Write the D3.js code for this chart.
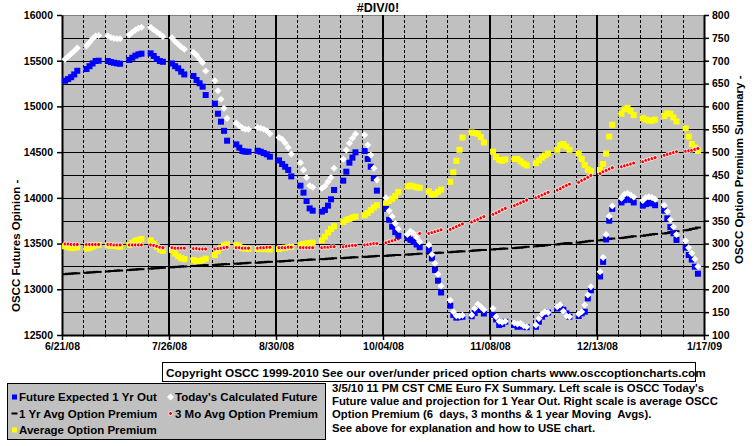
<!DOCTYPE html>
<html>
<head>
<meta charset="utf-8">
<script src="https://cdn.jsdelivr.net/npm/d3@7/dist/d3.min.js"></script>
<style>
  body { margin: 0; background: #fff; }
  svg text { font-family: "Liberation Sans", Arial, sans-serif; font-weight: bold; fill: #000; white-space: pre; }
</style>
</head>
<body>
<div id="graphic"></div>
<script>
// first day (Sunday) of each trading week, 5 points per week
var weekStarts = ["2008-06-22","2008-06-29","2008-07-06","2008-07-13","2008-07-20",
  "2008-07-27","2008-08-03","2008-08-10","2008-08-17","2008-08-24",
  "2008-08-31","2008-09-07","2008-09-14","2008-09-21","2008-09-28",
  "2008-10-05","2008-10-12","2008-10-19","2008-10-26","2008-11-02",
  "2008-11-09","2008-11-16","2008-11-23","2008-11-30","2008-12-07",
  "2008-12-14","2008-12-21","2008-12-28","2009-01-04","2009-01-11"];

var xTickDates = ["2008-06-21","2008-07-26","2008-08-30","2008-10-04","2008-11-08","2008-12-13","2009-01-17"];
var xTickLabels = ["6/21/08","7/26/08","8/30/08","10/04/08","11/08/08","12/13/08","1/17/09"];

// left scale
var futureExpected = [
  [15281,15299,15320,15350,15390],[15409,15440,15470,15497,15500],[15497,15485,15478,15471,15467],
  [15508,15533,15555,15570,15577],[15580,15552,15519,15497,15488],[15470,15440,15417,15380,15350],
  [15333,15289,15253,15216,15125],[15030,14920,14833,14733,14625],[14585,14549,14512,14505,14505],
  [14515,14505,14490,14476,14450],[14410,14370,14340,14305,14235],[14133,14057,13966,13885,13860],
  [13849,13867,13915,13984,14086],[14188,14286,14385,14440,14498],[14512,14425,14341,14214,14079],
  [13880,13760,13685,13625,13585],[13560,13540,13520,13490,13460],[13430,13338,13211,13094,12965],
  [12820,12720,12690,12695,12700],[12705,12740,12790,12780,12735],[12720,12670,12610,12620,12645],
  [12610,12590,12598,12590,12585],[12590,12645,12700,12730,12745],[12790,12810,12775,12737,12700],
  [12708,12737,12755,12900,12990],[13140,13300,13545,13750,13880],[13950,13975,13995,13978,13950],
  [13915,13932,13947,13940,13920],[13860,13776,13680,13612,13540],[13455,13375,13325,13247,13170]];

var todayCalc = [
  [15515,15545,15575,15605,15640],[15660,15700,15740,15770,15775],[15770,15755,15745,15740,15740],
  [15781,15810,15836,15854,15865],[15865,15840,15815,15790,15765],[15750,15710,15680,15650,15625],
  [15592,15562,15515,15478,15388],[15281,15172,15078,14980,14870],[14820,14790,14765,14750,14750],
  [14770,14760,14750,14735,14700],[14660,14640,14600,14550,14480],[14385,14305,14224,14133,14115],
  [14104,14130,14177,14224,14323],[14421,14523,14596,14651,14698],[14687,14578,14469,14323,14195],
  [14000,13860,13795,13720,13660],[13600,13635,13610,13570,13520],[13485,13380,13285,13165,13035],
  [12880,12755,12710,12708,12715],[12720,12790,12835,12810,12775],[12790,12700,12650,12640,12650],
  [12630,12620,12627,12600,12590],[12610,12680,12730,12755,12745],[12810,12830,12760,12710,12700],
  [12730,12755,12828,12937,13028],[13193,13349,13600,13800,13910],[13995,14040,14050,14032,14010],
  [13970,14005,14013,14005,13985],[13920,13850,13760,13685,13600],[13530,13455,13395,13330,13250]];

// right scale
var yrAvgPremium = [
  [233,234,234,235,235],[236,237,237,238,238],[239,240,240,241,241],[242,243,243,244,244],
  [245,246,246,247,247],[248,249,249,250,250],[251,251,252,252,253],[253,254,254,255,255],
  [256,256,257,257,258],[258,259,259,260,260],[261,261,262,262,263],[263,264,264,265,265],
  [266,266,267,267,268],[268,269,269,270,270],[271,271,272,272,273],[273,274,274,275,275],
  [276,276,277,277,278],[278,279,279,280,280],[281,282,282,283,283],[284,285,285,286,286],
  [287,288,288,289,289],[290,291,291,292,293],[294,295,295,296,297],[298,299,300,301,301],
  [302,303,304,305,306],[307,308,309,310,311],[312,313,314,315,316],[317,318,319,320,321],
  [322,323,325,326,327],[329,330,332,333,335]];

var moAvgPremium = [
  [299,299,298,298,298],[298,298,298,298,298],[298,298,297,297,297],[297,297,297,297,297],
  [297,296,294,292,291],[291,290,290,290,290],[289,289,288,288,288],[288,289,290,291,292],
  [291,291,290,290,290],[290,291,291,292,292],[291,291,291,292,292],[291,291,291,291,291],
  [291,292,292,293,293],[293,294,295,296,296],[297,298,299,300,300],[302,304,306,308,310],
  [311,314,317,320,322],[322,324,326,328,330],[331,334,337,340,343],[347,350,353,356,359],
  [364,367,370,374,377],[383,386,389,392,395],[400,403,406,409,412],[417,420,424,427,430],
  [434,438,441,445,449],[453,457,460,463,466],[468,470,472,474,476],[479,482,484,486,488],
  [493,495,497,499,501],[502,503,504,506,508]];

var avgPremium = [
  [294,292,290,291,292],[289,290,293,296,297],[296,295,295,294,293],[297,302,306,308,310],
  [307,300,293,287,284],[286,278,272,268,266],[264,262,262,264,267],[275,284,291,296,298],
  [297,294,290,289,288],[288,288,288,288,287],[288,290,291,292,293],[297,299,300,301,302],
  [307,315,324,332,338],[347,352,354,357,359],[362,367,373,379,384],[388,393,398,404,413],
  [425,427,425,423,422],[414,407,408,413,418],[435,456,481,505,532],[543,542,540,533,521],
  [501,489,483,481,484],[485,485,480,475,471],[476,482,488,493,497],[505,515,518,512,505],
  [497,485,472,462,459],[461,474,497,534,560],[584,594,597,590,581],[574,571,569,569,571],
  [579,585,584,576,567],[552,534,518,510,503]];

var leftTicks = [12500,13000,13500,14000,14500,15000,15500,16000];
var rightTicks = [100,150,200,250,300,350,400,450,500,550,600,650,700,750,800];

var titleText = "#DIV/0!";
var leftTitle = "OSCC Futures Opinion -";
var rightTitle = "OSCC Option Premium Summary -";
var copyright = "Copyright OSCC 1999-2010 See our over/under priced option charts www.osccoptioncharts.com";
var noteLines = ["3/5/10 11 PM CST CME Euro FX Summary. Left scale is OSCC Today's",
  "Future value and projection for 1 Year Out. Right scale is average OSCC",
  "Option Premium (6  days, 3 months & 1 year Moving  Avgs).",
  "See above for explanation and how to USE chart."];

(function () {
  var parse = d3.timeParse("%Y-%m-%d");
  var W = 755, H = 446;
  var margin = {top: 15, right: 51, bottom: 111, left: 62},
      width = W - margin.left - margin.right,
      height = H - margin.top - margin.bottom;

  function toPoints(weeks) {
    var pts = [];
    weeks.forEach(function (vals, i) {
      var start = parse(weekStarts[i]);
      vals.forEach(function (v, j) {
        if (v != null) pts.push({date: d3.timeDay.offset(start, j), value: v});
      });
    });
    return pts;
  }

  var x = d3.scaleTime()
      .domain([parse(xTickDates[0]), parse(xTickDates[xTickDates.length - 1])])
      .range([0, width]);
  var yL = d3.scaleLinear().domain([12500, 16000]).range([height, 0]);
  var yR = d3.scaleLinear().domain([100, 800]).range([height, 0]);

  var root = d3.select("#graphic").append("svg")
      .attr("width", W).attr("height", H);

  root.append("text")
      .attr("x", 378).attr("y", 12)
      .attr("text-anchor", "middle")
      .style("font-size", "12.5px")
      .text(titleText);

  var svg = root.append("g")
      .attr("transform", "translate(" + margin.left + "," + margin.top + ")");

  svg.append("rect")
      .attr("width", width).attr("height", height)
      .attr("fill", "#c0c0c0");
  svg.append("line")
      .attr("x1", 0).attr("x2", width).attr("y1", 0.5).attr("y2", 0.5)
      .attr("stroke", "#808080");

  // horizontal grid
  svg.selectAll(".hgrid")
      .data(rightTicks.slice(1, -1))
    .enter().append("line")
      .attr("x1", 0).attr("x2", width)
      .attr("y1", function (d) { return Math.round(yR(d)) + 0.5; })
      .attr("y2", function (d) { return Math.round(yR(d)) + 0.5; })
      .attr("stroke", "#000");

  // weekly dashed + major solid verticals
  var weeks = d3.timeSaturday.range(x.domain()[0], d3.timeDay.offset(x.domain()[1], 1));
  var majors = xTickDates.map(parse);
  var isMajor = function (d) { return majors.some(function (m) { return +m === +d; }); };
  svg.selectAll(".vminor")
      .data(weeks.filter(function (d) { return !isMajor(d); }))
    .enter().append("line")
      .attr("x1", function (d) { return Math.round(x(d)) + 0.5; })
      .attr("x2", function (d) { return Math.round(x(d)) + 0.5; })
      .attr("y1", 0).attr("y2", height)
      .attr("stroke", "#000")
      .attr("stroke-dasharray", "3,2");
  svg.selectAll(".vmajor")
      .data(majors.slice(1, -1))
    .enter().append("line")
      .attr("x1", function (d) { return Math.round(x(d)); })
      .attr("x2", function (d) { return Math.round(x(d)); })
      .attr("y1", 0).attr("y2", height)
      .attr("stroke", "#000")
      .attr("stroke-width", 2);

  // minor ticks on the date axis
  svg.selectAll(".mtick")
      .data(weeks)
    .enter().append("line")
      .attr("x1", function (d) { return Math.round(x(d)) + 0.5; })
      .attr("x2", function (d) { return Math.round(x(d)) + 0.5; })
      .attr("y1", height - 2).attr("y2", height + 2)
      .attr("stroke", "#000");

  // axes
  var xAxis = svg.append("g")
      .attr("transform", "translate(0," + height + ")")
      .call(d3.axisBottom(x).tickValues(majors)
        .tickFormat(function (d, i) { return xTickLabels[i]; })
        .tickSize(5).tickSizeOuter(0).tickPadding(3));
  var leftAxis = svg.append("g")
      .call(d3.axisLeft(yL).tickValues(leftTicks).tickFormat(d3.format("d"))
        .tickSize(5).tickSizeOuter(0).tickPadding(4));
  var rightAxis = svg.append("g")
      .attr("transform", "translate(" + width + ",0)")
      .call(d3.axisRight(yR).tickValues(rightTicks).tickFormat(d3.format("d"))
        .tickSize(5).tickSizeOuter(0).tickPadding(3));
  [xAxis, leftAxis, rightAxis].forEach(function (a) {
    a.select(".domain").attr("stroke", "#000").attr("stroke-width", 2);
    a.selectAll(".tick line").attr("stroke", "#000").attr("stroke-width", 1.5);
    a.selectAll("text").style("font-size", "10.5px")
      .style("font-family", '"Liberation Sans", Arial, sans-serif').style("font-weight", "bold");
  });

  // axis titles
  root.append("text")
      .attr("transform", "translate(20,312) rotate(-90)")
      .style("font-size", "11.5px")
      .text(leftTitle);
  root.append("text")
      .attr("transform", "translate(743,264) rotate(-90)")
      .style("font-size", "11.5px")
      .text(rightTitle);

  // series
  var yellowPts = toPoints(avgPremium),
      blackPts = toPoints(yrAvgPremium),
      redPts = toPoints(moAvgPremium),
      bluePts = toPoints(futureExpected),
      whitePts = toPoints(todayCalc);

  svg.selectAll(".yel").data(yellowPts).enter().append("rect")
      .attr("x", function (d) { return x(d.date) - 3; })
      .attr("y", function (d) { return yR(d.value) - 3; })
      .attr("width", 6).attr("height", 6)
      .attr("fill", "#ffff00");

  svg.selectAll(".blk").data(blackPts).enter().append("rect")
      .attr("x", function (d) { return x(d.date) - 3; })
      .attr("y", function (d) { return yR(d.value) - 1; })
      .attr("width", 6).attr("height", 2)
      .attr("fill", "#000");

  svg.selectAll(".red").data(redPts).enter().append("circle")
      .attr("cx", function (d) { return x(d.date); })
      .attr("cy", function (d) { return yR(d.value); })
      .attr("r", 2)
      .attr("fill", "#ff0000")
      .attr("stroke", "#fff").attr("stroke-width", 0.8);

  svg.selectAll(".blu").data(bluePts).enter().append("rect")
      .attr("x", function (d) { return x(d.date) - 3; })
      .attr("y", function (d) { return yL(d.value) - 3; })
      .attr("width", 6).attr("height", 6)
      .attr("fill", "#0000ff");

  var diamond = "M0,-3.5L3.5,0L0,3.5L-3.5,0Z";
  svg.selectAll(".wht").data(whitePts).enter().append("path")
      .attr("transform", function (d) { return "translate(" + x(d.date) + "," + yL(d.value) + ")"; })
      .attr("d", diamond)
      .attr("fill", "#fff");

  // copyright box
  root.append("rect")
      .attr("x", 162.5).attr("y", 362.5).attr("width", 533).attr("height", 19)
      .attr("fill", "#fff").attr("stroke", "#000");
  root.append("text")
      .attr("x", 166).attr("y", 377)
      .style("font-size", "11.8px")
      .text(copyright);

  // legend
  var lg = root.append("g");
  lg.append("rect")
      .attr("x", 7.5).attr("y", 383.5).attr("width", 318).attr("height", 56)
      .attr("fill", "#c0c0c0").attr("stroke", "#000");
  var items = [
    {label: "Future Expected 1 Yr Out", col: 0, row: 0, kind: "square", color: "#0000ff"},
    {label: "Today's Calculated Future", col: 1, row: 0, kind: "diamond", color: "#fff"},
    {label: "1 Yr Avg Option Premium", col: 0, row: 1, kind: "dash", color: "#000"},
    {label: "3 Mo Avg Option Premium", col: 1, row: 1, kind: "dot", color: "#ff0000"},
    {label: "Average Option Premium", col: 0, row: 2, kind: "square", color: "#ffff00"}
  ];
  items.forEach(function (it) {
    var mx = it.col ? 170.5 : 14.5, my = 397 + it.row * 16.5;
    if (it.kind === "square") {
      lg.append("rect").attr("x", mx - 2.5).attr("y", my - 2.5).attr("width", 5).attr("height", 5).attr("fill", it.color);
    } else if (it.kind === "diamond") {
      lg.append("path").attr("transform", "translate(" + mx + "," + my + ")").attr("d", diamond).attr("fill", "#fff");
    } else if (it.kind === "dash") {
      lg.append("rect").attr("x", mx - 3).attr("y", my - 1).attr("width", 6).attr("height", 2).attr("fill", "#000");
    } else {
      lg.append("circle").attr("cx", mx).attr("cy", my).attr("r", 2).attr("fill", "#ff0000").attr("stroke", "#fff").attr("stroke-width", 0.8);
    }
    lg.append("text")
      .attr("x", mx + 4.5).attr("y", my + 4)
      .style("font-size", "11.5px")
      .text(it.label);
  });

  // note text
  root.selectAll(".note")
      .data(noteLines)
    .enter().append("text")
      .attr("x", 332).attr("y", function (d, i) { return 391.5 + i * 13.4; })
      .style("font-size", "11.3px")
      .text(function (d) { return d; });
})();
</script>
</body>
</html>
